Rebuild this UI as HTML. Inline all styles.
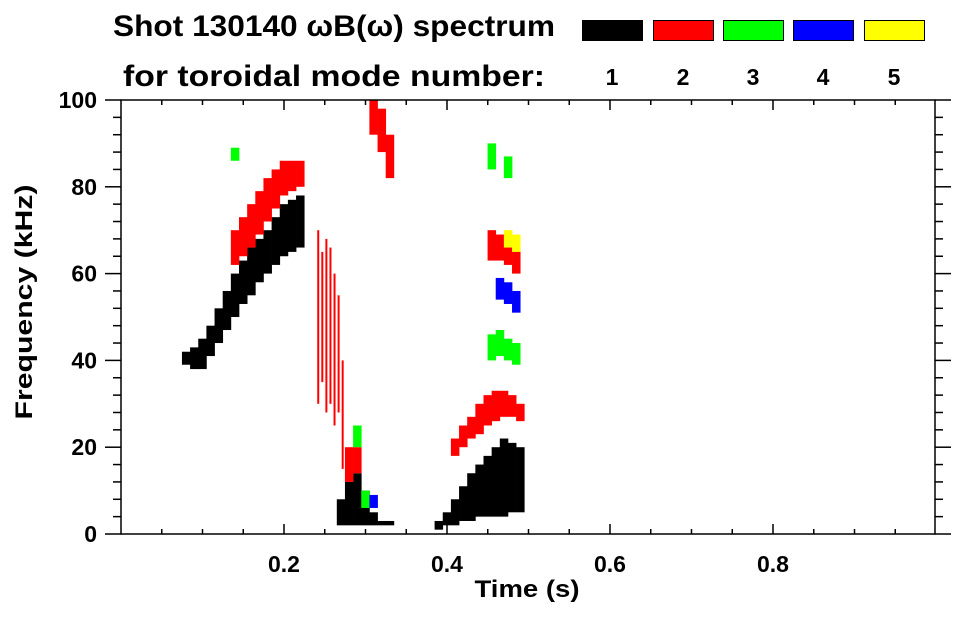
<!DOCTYPE html>
<html><head><meta charset="utf-8"><style>
body{margin:0;background:#fff;}
svg text{font-family:"Liberation Sans",sans-serif;font-weight:bold;fill:#000;}
</style></head><body>
<svg id="c" width="963" height="615" xmlns="http://www.w3.org/2000/svg">
<text x="113" y="36" font-size="30" textLength="442" lengthAdjust="spacingAndGlyphs">Shot 130140 ωB(ω) spectrum</text>
<text x="123" y="86" font-size="30" textLength="422" lengthAdjust="spacingAndGlyphs">for toroidal mode number:</text>
<g id="legend"></g>
<g id="marks"></g>
<g id="axes"></g>
<text x="527" y="597" font-size="24" text-anchor="middle" textLength="105" lengthAdjust="spacingAndGlyphs">Time (s)</text>
<text transform="translate(32,302) rotate(-90)" font-size="24" text-anchor="middle" textLength="235" lengthAdjust="spacingAndGlyphs">Frequency (kHz)</text>
</svg>
<script>
const modes=[1,2,3,4,5];
const modeColors=["#000","#f00","#0f0","#00f","#ff0"];
const xTicks=[0.2,0.4,0.6,0.8];
const yTicks=[0,20,40,60,80,100];
// segments: [time, fLow, fHigh]
const mode1=[[0.08,39,42],[0.09,38,43],[0.10,38,45],[0.11,41,48],[0.12,44,52],[0.13,47,56],[0.14,50,60],[0.15,53,63],[0.16,55,66],[0.17,58,68],[0.18,60,70],[0.19,62,73],[0.20,64,76],[0.21,65,77],[0.22,66,78],
[0.27,2,8],[0.28,2,12],[0.29,2,14],[0.30,2,10],[0.31,2,5],[0.32,2,3],[0.33,2,3],
[0.39,1,3],[0.40,2,5],[0.41,2,8],[0.42,3,11],[0.43,3,14],[0.44,4,16],[0.45,4,18],[0.46,4,20],[0.47,4,22],[0.48,5,21],[0.49,5,20]];
const mode2=[[0.14,62,70],[0.15,64,73],[0.16,66,76],[0.17,69,79],[0.18,72,82],[0.19,75,84],[0.20,78,86],[0.21,79,86],[0.22,80,86],
[0.242,30,70],[0.247,35,65],[0.252,28,68],[0.257,30,66],[0.262,25,60],[0.267,28,55],[0.272,15,40],
[0.28,12,20],[0.29,14,20],[0.31,92,100],[0.32,88,98],[0.33,82,92],
[0.41,18,22],[0.42,20,25],[0.43,22,27],[0.44,23,30],[0.45,25,32],[0.46,26,33],[0.47,27,33],[0.48,27,32],[0.49,26,30],
[0.455,63,70],[0.465,63,69],[0.475,62,68],[0.485,60,66]];
const mode3=[[0.14,86,89],[0.29,20,25],[0.30,6,10],[0.455,40,46],[0.465,41,47],[0.475,40,45],[0.485,39,44],[0.455,84,90],[0.475,82,87]];
const mode4=[[0.31,6,9],[0.465,54,59],[0.475,53,58],[0.485,51,56]];
const mode5=[[0.475,66,70],[0.485,65,69]];
const series=[mode1,mode2,mode3,mode4,mode5];
const NS="http://www.w3.org/2000/svg";
const X=t=>121+t*815, Y=f=>534-f*4.34;
function el(tag,attrs,parent){const e=document.createElementNS(NS,tag);for(const k in attrs)e.setAttribute(k,attrs[k]);parent.appendChild(e);return e;}
const marks=document.getElementById('marks');
series.forEach((s,i)=>{s.forEach(seg=>{
 const w=(i===1&&seg[0]>0.24&&seg[0]<0.275)?2:8.5;
 const r=el('rect',{x:X(seg[0])-w/2,y:Y(seg[2]),width:w,height:Y(seg[1])-Y(seg[2]),fill:modeColors[i]},marks);
 
 
});});
const lg=document.getElementById('legend');
const lx=[582,653,723,793,864];
modes.forEach((m,i)=>{
 const r=el('rect',{x:lx[i]+0.5,y:20.5,width:60,height:20,fill:modeColors[i],stroke:'#000','stroke-width':1},lg);
 
 
 const t=el('text',{x:lx[i]+30,y:85,'font-size':23,'text-anchor':'middle'},lg);t.textContent=m;
 
 
});
const ax=document.getElementById('axes');
const st={stroke:'#000','stroke-width':1.5};
el('rect',{x:121,y:100,width:814,height:434,fill:'none',stroke:'#000','stroke-width':1.5},ax);
for(let k=1;k<20;k++){const x=X(k*0.05),L=(k%4===0)?10:5;
 el('line',Object.assign({x1:x,x2:x,y1:534,y2:534-L},st),ax);
 el('line',Object.assign({x1:x,x2:x,y1:100,y2:100+L},st),ax);}
for(let k=0;k<=25;k++){const y=Y(k*4),L=(k%5===0)?16:8;
 el('line',Object.assign({x1:121-L,x2:121,y1:y,y2:y},st),ax);
 el('line',Object.assign({x1:935,x2:935+L,y1:y,y2:y},st),ax);}
xTicks.forEach(v=>{const t=el('text',{x:X(v),y:572,'font-size':23,'text-anchor':'middle'},ax);t.textContent=v.toFixed(1);
 
 });
yTicks.forEach(v=>{const t=el('text',{x:97,y:Y(v)+8,'font-size':23,'text-anchor':'end'},ax);t.textContent=v;
 
 });
</script>
</body></html>
